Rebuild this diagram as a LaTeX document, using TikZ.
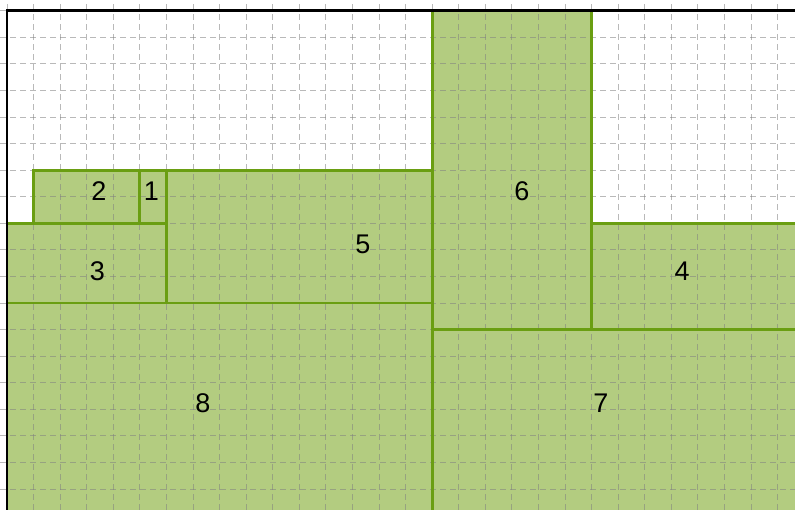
\documentclass[tikz,border=0pt]{standalone}
\usepackage{fontspec}
\setmainfont{Liberation Sans}
\definecolor{fillg}{RGB}{179,204,128}
\definecolor{edgeg}{RGB}{106,158,18}
\begin{document}
\begin{tikzpicture}[x=1pt,y=-1pt,
  cellfill/.style={fill=fillg},
  celledge/.style={draw=edgeg,line width=2.8pt},
  lbl/.style={font=\fontsize{27}{30}\selectfont,text=black,inner sep=0pt},
  gridline/.style={gray,opacity=0.55,line width=0.9pt,dash pattern=on 6pt off 4pt},
  borderline/.style={black,line width=2.8pt}]
\useasboundingbox (0,0) rectangle (795,510);
\begin{scope}
\clip (0,0) rectangle (795,510);
\begin{scope}[shift={(7,10.7)},x=26.57pt,y=-26.57pt]
  \foreach \a/\b in {{(1,6)}/{(5,8)},{(5,6)}/{(6,8)},{(0,8)}/{(6,11)},{(6,6)}/{(16,11)},
                     {(16,0)}/{(22,12)},{(22,8)}/{(31,12)},{(0,11)}/{(16,20)},{(16,12)}/{(31,20)}}
    \path[cellfill] \a rectangle \b;
  \foreach \c in {-1,...,30} \draw[gridline] (\c,-1) -- (\c,20);
  \foreach \r in {-1,...,19} \draw[gridline] (-1,\r) -- (31,\r);
  \foreach \a/\b in {{(1,6)}/{(5,8)},{(5,6)}/{(6,8)},{(0,8)}/{(6,11)},{(6,6)}/{(16,11)},
                     {(16,0)}/{(22,12)},{(22,8)}/{(31,12)},{(0,11)}/{(16,20)},{(16,12)}/{(31,20)}}
    \path[celledge] \a rectangle \b;
  \draw[borderline] (0,20) -- (0,0) -- (31,0);
\end{scope}
\end{scope}
\node[lbl] (l2) at (99,191) {2};
\node[lbl] (l1) at (151.5,191) {1};
\node[lbl] (l3) at (97.5,271) {3};
\node[lbl] (l5) at (363,244) {5};
\node[lbl] (l6) at (522,191) {6};
\node[lbl] (l4) at (682,271) {4};
\node[lbl] (l8) at (203,403) {8};
\node[lbl] (l7) at (601,403) {7};
\end{tikzpicture}
\end{document}
